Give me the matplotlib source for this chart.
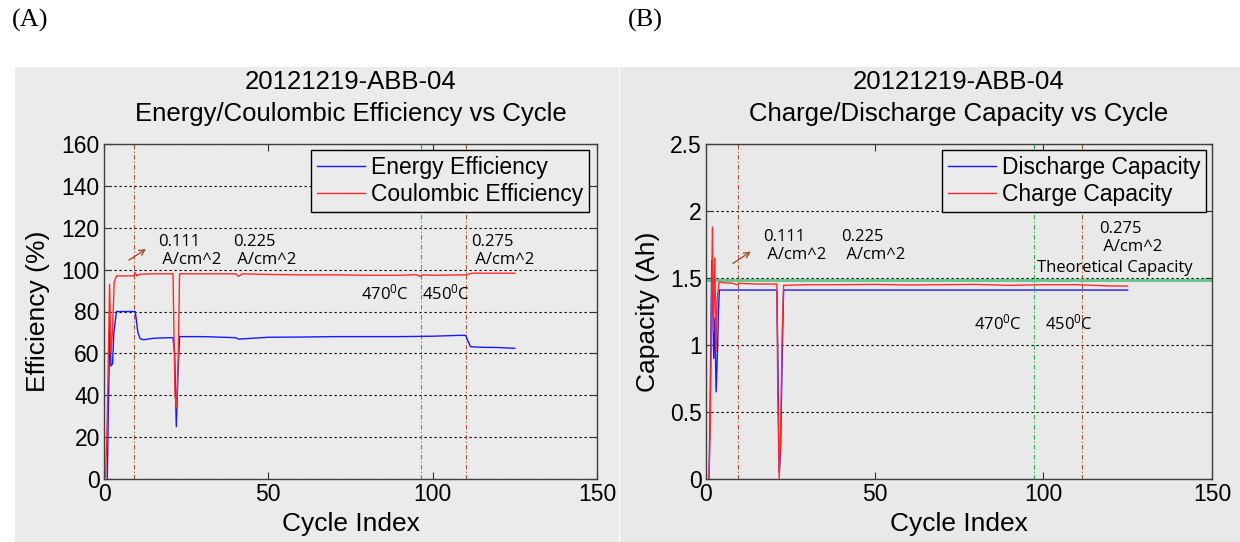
import matplotlib.pyplot as plt
from matplotlib.patches import Rectangle

plt.rcParams['font.family'] = ['Liberation Sans', 'DejaVu Sans']
plt.rcParams['mathtext.default'] = 'regular'

# ---- (A) efficiency vs cycle ----
ce_cycle = [0.5, 1.0, 1.7, 2.1, 2.6, 3.1, 3.8, 9.0, 9.5, 10, 11, 15, 20, 21, 21.6, 22.1,
            22.6, 23, 30, 40, 41, 42, 50, 60, 70, 80, 90, 95, 96, 97, 100, 110, 112, 115, 125]
ce_value = [1, 30, 93, 60, 71, 94, 97, 97, 98.5, 97, 97.8, 98, 98, 98, 40, 34,
            60, 98, 98, 98, 96.8, 98, 97.7, 97.5, 97.5, 97.3, 97.3, 97.6, 96.8, 97.5, 97.3, 97.5, 98.3, 98.3, 98.3]

ee_cycle = [1.0, 1.3, 1.8, 2.1, 2.6, 3.0, 3.8, 9.5, 10.3, 11, 12, 15, 20, 21, 21.5, 22,
            22.5, 23, 30, 40, 41, 50, 60, 70, 80, 90, 100, 108, 110, 111.5, 115, 120, 125]
ee_value = [0, 31, 74, 54, 55, 70, 80, 80, 70, 67, 66.5, 67.2, 67.5, 67.5, 60, 25,
            50, 68, 68, 67.5, 66.8, 67.7, 67.8, 68, 68, 68, 68.2, 68.6, 68.6, 63.2, 62.9, 62.8, 62.4]

# ---- (B) capacity vs cycle ----
chg_cycle = [0.9, 1.3, 1.6, 1.9, 2.2, 2.6, 3.0, 3.3, 3.9, 5, 8, 9, 10, 15, 21, 21.3,
             21.7, 22.1, 22.6, 23, 30, 40, 50, 60, 70, 80, 90, 100, 110, 115, 120, 125]
chg_value = [0.0, 0.45, 1.2, 1.88, 1.1, 1.65, 0.95, 1.34, 1.47, 1.465, 1.46, 1.45, 1.46, 1.455, 1.455, 0.6,
             0.0, 0.3, 1.1, 1.445, 1.45, 1.45, 1.452, 1.448, 1.45, 1.452, 1.445, 1.45, 1.45, 1.445, 1.44, 1.44]

dis_cycle = [0.9, 1.2, 1.7, 2.0, 2.3, 2.6, 3.0, 3.4, 3.7, 3.95, 21, 21.3, 21.7, 22.1, 22.5, 23, 125]
dis_value = [0.0, 0.5, 1.63, 1.3, 0.9, 1.2, 0.65, 0.95, 1.26, 1.41, 1.41, 0.9, 0.05, 0.2, 0.8, 1.41, 1.41]

theoretical_capacity = 1.485

current_labels = ['0.111\n A/cm^2', '0.225\n A/cm^2', '0.275\n A/cm^2']
temp_labels = ['470$^{0}$C', '450$^{0}$C']

PANEL = '#ebebeb'
BROWN = '#a0522d'
GREEN = '#22b24c'
BLUE = '#1818ff'
RED = '#ff2a2a'
NOTE_FONT = ['Open Sans', 'DejaVu Sans']
NOTE_SIZE = 12

fig = plt.figure(figsize=(12.4, 5.42), dpi=100)
fig.patches.append(Rectangle((15 / 1240, 0), 604 / 1240, 475 / 542, transform=fig.transFigure,
                             facecolor=PANEL, edgecolor='none', zorder=-10))
fig.patches.append(Rectangle((620 / 1240, 0), 620 / 1240, 475 / 542, transform=fig.transFigure,
                             facecolor='#e9e9e9', edgecolor='none', zorder=-10))

fig.text(12 / 1240, 1 - 20 / 542, '(A)', family='Liberation Serif', fontsize=19, va='center')
fig.text(628 / 1240, 1 - 20 / 542, '(B)', family='Liberation Serif', fontsize=19, va='center')


def style_axes(ax, ymax):
    ax.set_facecolor('none')
    ax.set_xlim(0, 150)
    ax.set_ylim(0, ymax)
    ax.set_xticks([0, 50, 100, 150])
    ax.tick_params(direction='in', top=True, right=True, length=5, width=0.8,
                   labelsize=16.5, pad=3, colors='#333333', labelcolor='black')
    for s in ax.spines.values():
        s.set_color('#404040')
        s.set_linewidth(1.0)
    ax.yaxis.grid(True, color='black', linestyle=(0, (2, 2.5)), linewidth=0.8)
    ax.set_axisbelow(True)
    ax.set_xlabel('Cycle Index', fontsize=19, labelpad=4)


def style_legend(leg):
    frame = leg.get_frame()
    frame.set_facecolor(PANEL)
    frame.set_edgecolor('black')
    frame.set_linewidth(1.0)


LEG_KW = dict(loc='upper right', borderaxespad=0, fontsize=16.5, handlelength=2.1,
              handletextpad=0.25, labelspacing=0.2, fancybox=False, framealpha=1,
              borderpad=0.25)

# ---------- (A) ----------
ax1 = fig.add_axes([104 / 1240, 63 / 542, 493 / 1240, 335 / 542])
style_axes(ax1, 160)
ax1.set_yticks(range(0, 161, 20))
ax1.set_ylabel('Efficiency (%)', fontsize=19, labelpad=8)
for xv, col in [(9, BROWN), (96.5, GREEN), (110, BROWN)]:
    ax1.axvline(xv, color=col, linestyle=(0, (4, 2, 1, 2)), linewidth=0.8, zorder=1)
ax1.plot(ee_cycle, ee_value, color=BLUE, linewidth=1.0, label='Energy Efficiency', zorder=3)
ax1.plot(ce_cycle, ce_value, color=RED, linewidth=1.0, label='Coulombic Efficiency', zorder=3)
ax1.annotate('', xy=(13.5, 110.6), xytext=(6.9, 103.8),
             arrowprops=dict(arrowstyle='->', color=BROWN, lw=1.0))
for xv, lab in zip([16.5, 39.3, 111.7], current_labels):
    ax1.text(xv, 109, lab, family=NOTE_FONT, fontsize=NOTE_SIZE, va='center', linespacing=1.2)
for xv, lab in zip([78.3, 96.9], temp_labels):
    ax1.text(xv, 88.7, lab, family=NOTE_FONT, fontsize=NOTE_SIZE, va='center')
leg1 = ax1.legend(bbox_to_anchor=(1 - 8 / 493, 1 - 6 / 335), **LEG_KW)
style_legend(leg1)
ax1.text(0.5, 1 + 46 / 335, '20121219-ABB-04\nEnergy/Coulombic Efficiency vs Cycle',
         transform=ax1.transAxes, ha='center', va='center', fontsize=18.5, linespacing=1.4)

# ---------- (B) ----------
ax2 = fig.add_axes([706 / 1240, 63 / 542, 506 / 1240, 335 / 542])
style_axes(ax2, 2.5)
ax2.set_yticks([0, 0.5, 1, 1.5, 2, 2.5])
ax2.set_yticklabels(['0', '0.5', '1', '1.5', '2', '2.5'])
ax2.set_ylabel('Capacity (Ah)', fontsize=19, labelpad=7)
for xv, col in [(9.6, BROWN), (97.3, GREEN), (111.4, BROWN)]:
    ax2.axvline(xv, color=col, linestyle=(0, (4, 2, 1, 2)), linewidth=0.8, zorder=1)
ax2.axhline(theoretical_capacity, color='#6cc58c', linewidth=2.2, zorder=2)
ax2.plot(dis_cycle, dis_value, color=BLUE, linewidth=1.0, label='Discharge Capacity', zorder=3)
ax2.plot(chg_cycle, chg_value, color=RED, linewidth=1.0, label='Charge Capacity', zorder=3)
ax2.annotate('', xy=(14.0, 1.709), xytext=(7.3, 1.597),
             arrowprops=dict(arrowstyle='->', color=BROWN, lw=1.0))
for xv, lab in zip([17.0, 40.2], current_labels[:2]):
    ax2.text(xv, 1.74, lab, family=NOTE_FONT, fontsize=NOTE_SIZE, va='center', linespacing=1.2)
ax2.text(116.5, 1.80, current_labels[2], family=NOTE_FONT, fontsize=NOTE_SIZE, va='center', linespacing=1.2)
ax2.text(98.0, 1.572, 'Theoretical Capacity', family=NOTE_FONT, fontsize=NOTE_SIZE, va='center')
for xv, lab in zip([79.5, 100.5], temp_labels):
    ax2.text(xv, 1.162, lab, family=NOTE_FONT, fontsize=NOTE_SIZE, va='center')
leg2 = ax2.legend(bbox_to_anchor=(1 - 6 / 506, 1 - 6 / 335), **LEG_KW)
style_legend(leg2)
ax2.text(0.5, 1 + 46 / 335, '20121219-ABB-04\nCharge/Discharge Capacity vs Cycle',
         transform=ax2.transAxes, ha='center', va='center', fontsize=18.5, linespacing=1.4)

fig.savefig('out.png', dpi=100)
